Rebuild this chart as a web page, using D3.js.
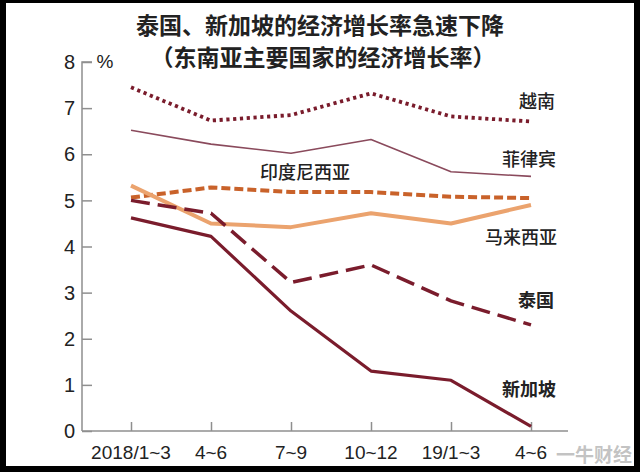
<!DOCTYPE html>
<html><head><meta charset="utf-8">
<script src="https://cdn.jsdelivr.net/npm/d3@7"></script>
<style>
html,body{margin:0;padding:0;background:#fff;}
svg{display:block;}
.cjk{font-family:"Noto Sans CJK SC","Noto Sans",sans-serif;}
.num{font-family:"Liberation Sans",Arial,sans-serif;}
</style></head>
<body>
<svg id="c" width="640" height="472"></svg>
<script>
const categories = ["2018/1~3","4~6","7~9","10~12","19/1~3","4~6 "];
const yTicks = [0,1,2,3,4,5,6,7,8];
const vietnam     = [7.45, 6.73, 6.85, 7.32, 6.82, 6.71];
const philippines = [6.52, 6.22, 6.02, 6.32, 5.62, 5.52];
const indonesia   = [5.06, 5.28, 5.18, 5.18, 5.08, 5.05];
const malaysia    = [5.32, 4.50, 4.42, 4.72, 4.50, 4.90];
const thailand    = [5.00, 4.72, 3.22, 3.60, 2.82, 2.30];
const singapore   = [4.62, 4.22, 2.60, 1.30, 1.10, 0.10];
const seriesNames = ["越南","菲律宾","印度尼西亚","马来西亚","泰国","新加坡"];
const title = "泰国、新加坡的经济增长率急速下降";
const subtitle = "（东南亚主要国家的经济增长率）";
const unit = "%";

const svg = d3.select("#c");
const W = 640, H = 472;

// frame
svg.append("rect").attr("x",0).attr("y",0).attr("width",W).attr("height",H).attr("fill","#000");
svg.append("rect").attr("x",6).attr("y",3).attr("width",W-12).attr("height",H-9).attr("fill","#fff");

const x = d3.scalePoint().domain(categories).range([131,531]);
const y = d3.scaleLinear().domain([0,8]).range([431,62]);
const axisColor = "#8f8f8f";

// y axis
const ya = svg.append("g").attr("transform","translate(82,0)")
  .call(d3.axisRight(y).tickValues(yTicks).tickSize(10).tickFormat(""));
ya.select(".domain").attr("stroke",axisColor).attr("stroke-width",1.5).attr("d","M10,"+y(8)+"H0V"+y(0));
ya.selectAll(".tick line").attr("stroke",axisColor).attr("stroke-width",1.5);
svg.append("g").selectAll("text").data(yTicks).join("text").attr("class","num")
  .attr("x",75).attr("y",d=>y(d)).attr("dy","0.36em").attr("text-anchor","end")
  .attr("font-size",20).attr("fill","#222").text(d=>d);
svg.append("text").attr("class","num").attr("x",105).attr("y",y(8)).attr("dy","0.3em")
  .attr("text-anchor","middle").attr("font-size",19).attr("fill","#222").text(unit);

// x axis
const xa = svg.append("g").attr("transform","translate(0,"+y(0)+")")
  .call(d3.axisTop(x).tickSize(9).tickFormat(""));
xa.select(".domain").attr("stroke",axisColor).attr("stroke-width",1.5).attr("d","M82,0H568");
xa.selectAll(".tick line").attr("stroke",axisColor).attr("stroke-width",1.5);
svg.append("g").selectAll("text").data(categories).join("text").attr("class","num")
  .attr("x",d=>x(d)).attr("y",y(0)+21).attr("dy","0.36em").attr("text-anchor","middle")
  .attr("font-size",19).attr("fill","#222").text(d=>d.trim());

// lines
const line = d3.line().x((d,i)=>x(categories[i])).y(d=>y(d));
const styles = [
  {data:vietnam, color:"#7a1c2c", w:3.8, dash:"3.2 3.6"},
  {data:philippines, color:"#8a4a5c", w:1.6, dash:null},
  {data:indonesia, color:"#c9622a", w:4, dash:"9 4"},
  {data:malaysia, color:"#eba36e", w:4, dash:null},
  {data:thailand, color:"#7a1c2c", w:3.5, dash:"19 8"},
  {data:singapore, color:"#7a1c2c", w:3.2, dash:null}
];
styles.forEach(s=>{
  svg.append("path").datum(s.data).attr("d",line).attr("fill","none")
    .attr("stroke",s.color).attr("stroke-width",s.w)
    .attr("stroke-linejoin","round")
    .attr("stroke-dasharray",s.dash);
});

// labels
const labelPos = [
  {n:0, x:555, v:7.15, w:500},
  {n:1, x:556, v:5.88, w:500},
  {n:2, x:305, v:5.6, w:500, a:"middle"},
  {n:3, x:557, v:4.2, w:500},
  {n:4, x:554, v:2.82, w:700},
  {n:5, x:556, v:0.9, w:700}
];
svg.append("g").selectAll("text").data(labelPos).join("text").attr("class","cjk")
  .attr("x",d=>d.x).attr("y",d=>y(d.v)).attr("dy","0.36em")
  .attr("text-anchor",d=>d.a||"end").attr("font-size",18).attr("font-weight",d=>d.w)
  .attr("fill","#222").text(d=>seriesNames[d.n]);

// titles
svg.append("text").attr("class","cjk").attr("x",320).attr("y",26).attr("dy","0.36em")
  .attr("text-anchor","middle").attr("font-size",23).attr("font-weight",700).attr("fill","#222").text(title);
svg.append("text").attr("class","cjk").attr("x",323).attr("y",58).attr("dy","0.36em")
  .attr("text-anchor","middle").attr("font-size",23).attr("font-weight",700).attr("fill","#222").text(subtitle);

// corner logo text
svg.append("text").attr("class","cjk").attr("x",632).attr("y",455).attr("dy","0.36em")
  .attr("text-anchor","end").attr("font-size",19).attr("font-weight",700)
  .attr("fill","#9a9a9a").attr("fill-opacity",0.6).text("一牛财经");
</script>
</body></html>
